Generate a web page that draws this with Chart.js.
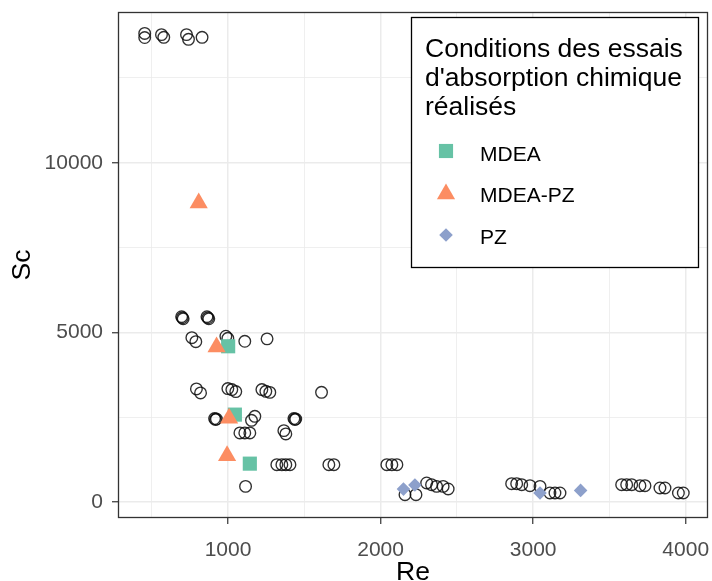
<!DOCTYPE html>
<html>
<head>
<meta charset="utf-8">
<script src="https://cdn.jsdelivr.net/npm/chart.js@4/dist/chart.umd.min.js"></script>
<style>
  html, body { margin: 0; padding: 0; background: #ffffff; }
  #wrap { width: 712px; height: 581px; }
</style>
</head>
<body>
<div id="wrap"><canvas id="c" width="712" height="581"></canvas></div>
<script>
// ---------- data ----------
const legendTitle = ["Conditions des essais", "d'absorption chimique", "réalisés"];
const seriesNames = ["MDEA", "MDEA-PZ", "PZ"];

// open-circle reference points (Re, Sc)
const refRe = [454, 454, 564, 579, 728, 741, 830,
  696, 701, 706, 862, 868, 874,
  763, 789, 986, 999, 1110, 1256,
  793, 820, 999, 1025, 1051, 1222, 1248, 1274, 1613,
  912, 918, 924, 1154, 1176, 1432, 1438, 1444,
  1078, 1110, 1143, 1366, 1379,
  1320, 1353, 1379, 1406, 1661, 1694,
  1115,
  2041, 2074, 2107,
  2160, 2232, 2302, 2334, 2367, 2410, 2443,
  2859, 2892, 2925, 2979, 3045, 3110, 3143, 3176,
  3580, 3613, 3646, 3700, 3733, 3831, 3864, 3952, 3984];
const refSc = [13810, 13690, 13775, 13696, 13775, 13637, 13696,
  5460, 5430, 5400, 5460, 5430, 5400,
  4843, 4725, 4885, 4826, 4737, 4808,
  3333, 3215, 3342, 3313, 3254, 3313, 3262, 3230, 3233,
  2460, 2430, 2445, 2407, 2525, 2460, 2430, 2445,
  2035, 2035, 2035, 2103, 2006,
  1100, 1100, 1100, 1100, 1100, 1100,
  460,
  1100, 1100, 1100,
  215, 215, 560, 510, 460, 460, 383,
  540, 540, 510, 481, 460, 265, 265, 265,
  510, 510, 510, 481, 481, 413, 413, 265, 265];

const mdeaRe = [1001, 1045, 1143];
const mdeaSc = [4590, 2575, 1130];
const mdeaPzRe = [808, 925, 1007, 994];
const mdeaPzSc = [8814, 4565, 2466, 1366];
const pzRe = [2150, 2225, 3045, 3311];
const pzSc = [380, 500, 265, 342];

const xTicks = [500, 1000, 1500, 2000, 2500, 3000, 3500, 4000];
const xLabels = [1000, 2000, 3000, 4000];
const yTicks = [0, 2500, 5000, 7500, 10000, 12500];
const yLabels = [0, 5000, 10000];

// ---------- helpers ----------
const pts = (xs, ys) => xs.map((x, i) => ({ x: x, y: ys[i] }));
const FONT = "'Liberation Sans', Arial, sans-serif";
const colMDEA = '#66C2A5', colMPZ = '#FC8D62', colPZ = '#8DA0CB';

const panelBorder = {
  id: 'panelBorder',
  afterDatasetsDraw(chart) {
    const a = chart.chartArea, ctx = chart.ctx;
    ctx.save();
    ctx.strokeStyle = '#333333';
    ctx.lineWidth = 1.3;
    ctx.strokeRect(Math.round(a.left) + 0.5, Math.round(a.top) + 0.5,
      Math.round(a.right - a.left) - 1, Math.round(a.bottom - a.top) - 1);
    ctx.restore();
  }
};

const boxLegend = {
  id: 'boxLegend',
  afterDraw(chart) {
    const ctx = chart.ctx;
    ctx.save();
    ctx.fillStyle = '#ffffff';
    ctx.fillRect(411, 17, 288, 251);
    ctx.strokeStyle = '#000000';
    ctx.lineWidth = 1.3;
    ctx.strokeRect(411.5, 17.5, 287, 250);
    ctx.fillStyle = '#000000';
    ctx.textBaseline = 'alphabetic';
    ctx.textAlign = 'left';
    ctx.font = '26.5px ' + FONT;
    const tb = [57, 86, 115];
    legendTitle.forEach((t, i) => ctx.fillText(t, 425, tb[i]));
    ctx.font = '21px ' + FONT;
    const lb = [160.5, 201.5, 244];
    const sy = [151, 194, 235];
    const ds = chart.data.datasets;
    seriesNames.forEach((name, i) => {
      const d = ds.find(s => s.label === name);
      ctx.fillStyle = '#000000';
      ctx.fillText(d.label, 480, lb[i]);
      ctx.fillStyle = d.backgroundColor;
      ctx.strokeStyle = d.backgroundColor;
      if (Chart.helpers && Chart.helpers.drawPoint) {
        Chart.helpers.drawPoint(ctx, { pointStyle: d.pointStyle, radius: d.pointRadius, rotation: 0, borderWidth: 0 }, 446, sy[i]);
      }
    });
    ctx.restore();
  }
};

const tickFont = { family: FONT, size: 21 };

new Chart(document.getElementById('c'), {
  type: 'scatter',
  data: {
    datasets: [
      { label: seriesNames[2], data: pts(pzRe, pzSc), pointStyle: 'rectRot', pointRadius: 6.8,
        backgroundColor: colPZ, borderColor: colPZ, borderWidth: 0, order: 1 },
      { label: seriesNames[1], data: pts(mdeaPzRe, mdeaPzSc), pointStyle: 'triangle', pointRadius: 10.5,
        backgroundColor: colMPZ, borderColor: colMPZ, borderWidth: 0, order: 2 },
      { label: seriesNames[0], data: pts(mdeaRe, mdeaSc), pointStyle: 'rect', pointRadius: 10,
        backgroundColor: colMDEA, borderColor: colMDEA, borderWidth: 0, order: 3 },
      { label: 'Référence', data: pts(refRe, refSc), pointStyle: 'circle', pointRadius: 5.8,
        backgroundColor: 'rgba(0,0,0,0)', borderColor: 'rgba(10,10,10,0.85)', borderWidth: 1.35, order: 4 }
    ]
  },
  options: {
    responsive: false,
    animation: false,
    events: [],
    layout: { autoPadding: false, padding: { top: 12, right: 4, left: 0, bottom: 0 } },
    plugins: { legend: { display: false }, tooltip: { enabled: false } },
    scales: {
      x: {
        type: 'linear', min: 279, max: 4146,
        afterBuildTicks: (s) => { s.ticks = xTicks.map(v => ({ value: v })); },
        afterFit: (s) => { s.height = 63; s.paddingLeft = 0; s.paddingRight = 0; },
        ticks: {
          font: tickFont, color: '#4D4D4D', padding: 14, maxRotation: 0, autoSkip: false,
          callback: (v) => xLabels.includes(v) ? String(v) : ''
        },
        grid: {
          color: '#EBEBEB',
          lineWidth: (c) => (c.tick && xLabels.includes(c.tick.value)) ? 1.5 : 0.8,
          tickColor: (c) => (c.tick && xLabels.includes(c.tick.value)) ? '#333333' : 'rgba(0,0,0,0)',
          tickWidth: 1.2,
          tickLength: 6
        },
        border: { display: false },
        title: { display: true, text: 'Re', color: '#000000',
          font: { family: FONT, size: 26.5, lineHeight: 1 }, padding: { top: 0, bottom: -5 } }
      },
      y: {
        type: 'linear', min: -472, max: 14442,
        afterBuildTicks: (s) => { s.ticks = yTicks.map(v => ({ value: v })); },
        afterFit: (s) => { s.width = 118; s.paddingTop = 0; s.paddingBottom = 0; },
        ticks: {
          font: tickFont, color: '#4D4D4D', padding: 9, autoSkip: false,
          callback: (v) => yLabels.includes(v) ? String(v) : ''
        },
        grid: {
          color: '#EBEBEB',
          lineWidth: (c) => (c.tick && yLabels.includes(c.tick.value)) ? 1.5 : 0.8,
          tickColor: (c) => (c.tick && yLabels.includes(c.tick.value)) ? '#333333' : 'rgba(0,0,0,0)',
          tickWidth: 1.2,
          tickLength: 6
        },
        border: { display: false },
        title: { display: true, text: 'Sc', color: '#000000',
          font: { family: FONT, size: 26.5, lineHeight: 1 }, padding: { top: 9, bottom: 0 } }
      }
    }
  },
  plugins: [panelBorder, boxLegend]
});
</script>
</body>
</html>
